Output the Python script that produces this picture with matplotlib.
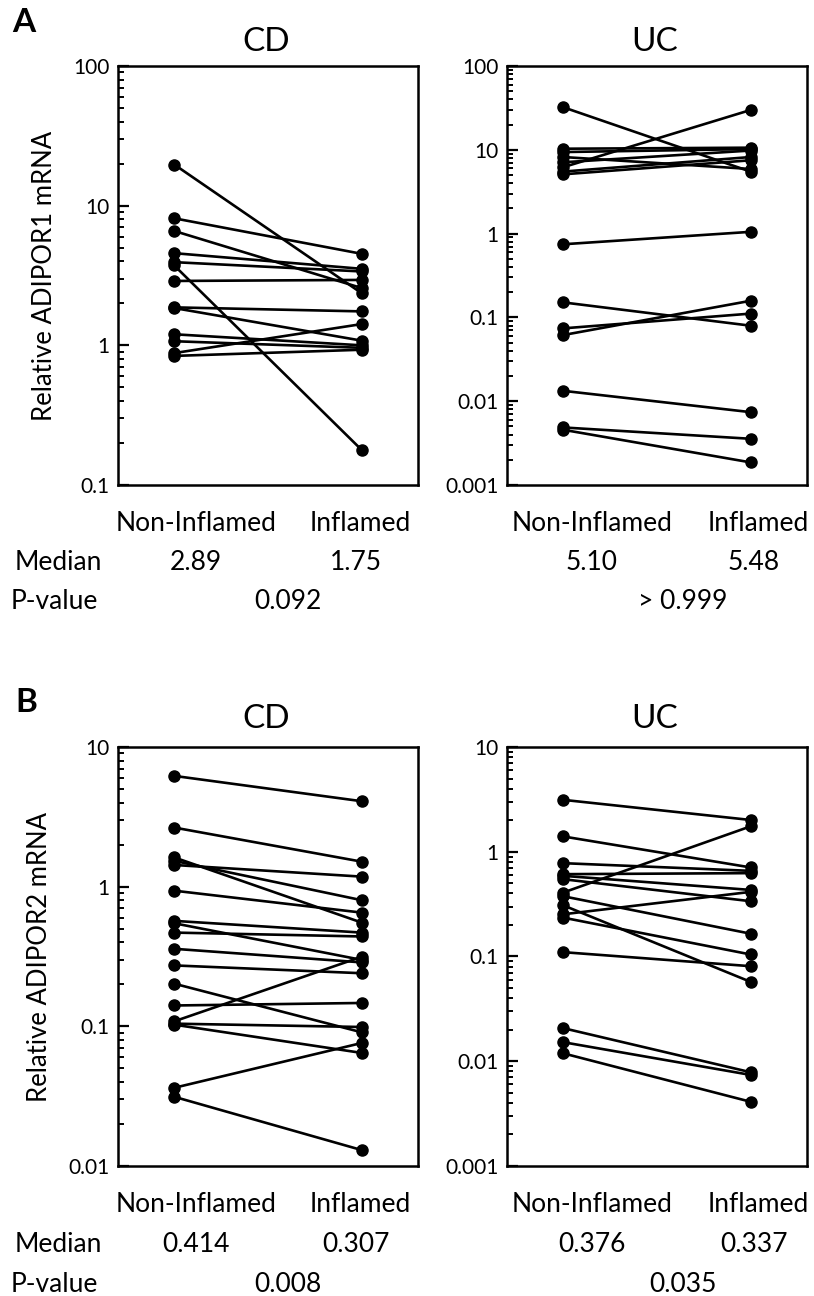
import numpy as np
import matplotlib
matplotlib.use("Agg")
import matplotlib.pyplot as plt
from matplotlib.ticker import LogLocator, FuncFormatter, NullFormatter

plt.rcParams['font.family'] = ['Lato', 'DejaVu Sans']

# ADIPOR1, CD (paired: non-inflamed -> inflamed)
a_cd_non = [19.7, 8.12, 6.59, 4.57, 3.94, 3.73, 2.89, 1.87, 1.85, 1.20, 1.07, 0.88, 0.84]
a_cd_inf = [2.36, 4.52, 2.57, 3.53, 3.38, 0.178, 2.94, 1.75, 1.08, 1.00, 0.96, 1.42, 0.93]

# ADIPOR1, UC
a_uc_non = [32.2, 6.2, 10.3, 9.4, 8.2, 7.1, 5.5, 5.10, 0.746, 0.151, 0.074, 0.0616,
            0.0133, 0.00486, 0.00456]
a_uc_inf = [5.48, 29.9, 10.6, 10.2, 5.9, 9.8, 8.2, 7.5, 1.05, 0.0796, 0.111, 0.158,
            0.0074, 0.00356, 0.00186]

# ADIPOR2, CD
b_cd_non = [6.21, 2.65, 1.62, 1.53, 1.43, 0.936, 0.569, 0.547, 0.469, 0.359, 0.273,
            0.202, 0.141, 0.1086, 0.1045, 0.1028, 0.0363, 0.0313]
b_cd_inf = [4.09, 1.51, 0.553, 0.80, 1.18, 0.652, 0.469, 0.299, 0.44, 0.287, 0.24,
            0.0906, 0.147, 0.315, 0.0989, 0.0645, 0.076, 0.0130]

# ADIPOR2, UC
b_uc_non = [3.13, 1.40, 0.778, 0.611, 0.589, 0.547, 0.408, 0.376, 0.308, 0.253, 0.235,
            0.110, 0.0207, 0.0152, 0.0119]
b_uc_inf = [2.01, 0.708, 0.657, 0.625, 0.432, 0.337, 1.75, 0.165, 0.0572, 0.414,
            0.1045, 0.0808, 0.00785, 0.0074, 0.0041]

groups = ["Non-Inflamed", "Inflamed"]
medians = {"A_CD": ["2.89", "1.75"], "A_UC": ["5.10", "5.48"],
           "B_CD": ["0.414", "0.307"], "B_UC": ["0.376", "0.337"]}
pvalues = {"A_CD": "0.092", "A_UC": "> 0.999", "B_CD": "0.008", "B_UC": "0.035"}

W, H = 814, 1296
fig = plt.figure(figsize=(W / 100, H / 100), dpi=100)


def px(x, y):
    return x / W, 1 - y / H


def make_axes(left, top):
    # axes box given in pixel coords
    x0, y1 = px(left, top)
    ax = fig.add_axes([x0, y1 - 419 / H, 300 / W, 419 / H])
    return ax


def draw_panel(ax, non, inf, ylim):
    for n, i in zip(non, inf):
        ax.plot([0, 1], [n, i], color="black", lw=1.9, marker="o", ms=8)
    ax.set_yscale("log")
    ax.set_ylim(*ylim)
    ax.set_xlim(-0.3, 1.3)
    ax.yaxis.set_major_locator(LogLocator(base=10))
    ax.yaxis.set_minor_locator(LogLocator(base=10, subs=np.arange(2, 10)))
    ax.yaxis.set_major_formatter(FuncFormatter(lambda v, p: "%g" % v))
    ax.yaxis.set_minor_formatter(NullFormatter())
    ax.tick_params(axis="y", which="major", direction="in", length=8, width=1.6,
                   labelsize=15, pad=6)
    ax.tick_params(axis="y", which="minor", direction="in", length=4.5, width=1.4)
    ax.tick_params(axis="x", bottom=False, labelbottom=False)
    for s in ax.spines.values():
        s.set_linewidth(1.8)


ax1 = make_axes(118, 66)
draw_panel(ax1, a_cd_non, a_cd_inf, (0.1, 100))
ax2 = make_axes(507, 66)
draw_panel(ax2, a_uc_non, a_uc_inf, (0.001, 100))
ax3 = make_axes(118, 747)
draw_panel(ax3, b_cd_non, b_cd_inf, (0.01, 10))
ax4 = make_axes(507, 747)
draw_panel(ax4, b_uc_non, b_uc_inf, (0.001, 10))

ax1.set_ylabel("Relative ADIPOR1 mRNA", fontsize=18.5, labelpad=12)
ax3.set_ylabel("Relative ADIPOR2 mRNA", fontsize=18.5, labelpad=12)

# panel letters and titles
fig.text(*px(24, 22), "A", fontsize=24, fontweight="bold", ha="center", va="center")
fig.text(*px(26, 702), "B", fontsize=24, fontweight="bold", ha="center", va="center")
for ytit in (42, 719):
    fig.text(*px(266, ytit), "CD", fontsize=24, ha="center", va="center")
    fig.text(*px(655, ytit), "UC", fontsize=24, ha="center", va="center")

# table below each row
rows = [("A", 523), ("B", 1205)]
for key, y0 in rows:
    fig.text(*px(58, y0 + 40), "Median", fontsize=19, ha="center", va="center")
    fig.text(*px(11, y0 + 79), "P-value", fontsize=19, ha="left", va="center")
    for dis, xs in (("CD", (196, 360, 288)), ("UC", (592, 758, 683))):
        k = key + "_" + dis
        fig.text(*px(xs[0], y0), groups[0], fontsize=19, ha="center", va="center")
        fig.text(*px(xs[1], y0), groups[1], fontsize=19, ha="center", va="center")
        fig.text(*px(xs[0], y0 + 40), medians[k][0], fontsize=19, ha="center", va="center")
        fig.text(*px(xs[1] - 4, y0 + 40), medians[k][1], fontsize=19, ha="center", va="center")
        fig.text(*px(xs[2], y0 + 79), pvalues[k], fontsize=19, ha="center", va="center")

fig.savefig("out.png", dpi=100)
